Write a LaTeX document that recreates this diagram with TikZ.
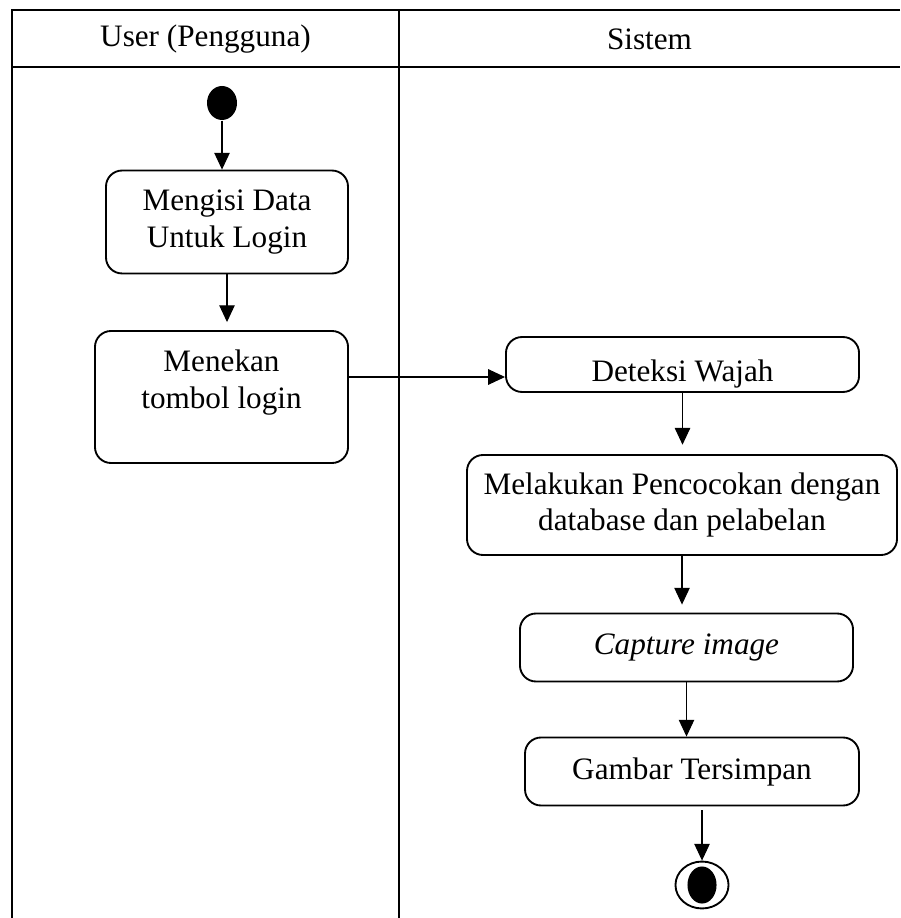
\documentclass[tikz,border=0pt]{standalone}
\usepackage{fontspec}
\setmainfont{Liberation Serif}
\usetikzlibrary{positioning,arrows.meta,shapes.geometric}

\begin{document}
\begin{tikzpicture}[x=0.375pt,y=-0.375pt,
		font=\fontsize{11.7pt}{13.8pt}\selectfont,
		act/.style={draw, line width=0.7pt, rounded corners=6pt, align=center, inner sep=0pt},
		flow/.style={-{Triangle[length=6.3pt,width=5.8pt]}, line width=0.4pt},
		lane/.style={line width=0.7pt}]
		\useasboundingbox (0,0) rectangle (900,918);
		
		\draw[lane] (900,10) -- (12,10) -- (12,918);
		\draw[lane] (12,67) -- (900,67);
		\draw[lane] (399,10) -- (399,918);
		\node (user) at (205.5,39.5) {User (Pengguna)};
		\node (sistem) at (649.5,39.5) {Sistem};
		
		\node[ellipse, fill, minimum width=11.25pt, minimum height=12.75pt, inner sep=0pt] (start) at (222,103) {};
		\node[act, minimum width=90.75pt, minimum height=38.6pt] (login) at (227,222) {Mengisi Data\\Untuk Login};
		\node[act, minimum width=94.9pt, minimum height=49.5pt,
		label={[align=center, anchor=north, yshift=-4pt]north:{Menekan\\tombol login}}] (tombol) at (221.5,397) {};
		
		\node[act, minimum width=132.4pt, minimum height=20.6pt, text height=15pt, text depth=2.6pt] (deteksi) at (682.5,364.5) {Deteksi Wajah};
		\node[act, minimum width=161.25pt, minimum height=37.5pt] (cocok) at (682,505) {Melakukan Pencocokan dengan\\database dan pelabelan};
		\node[act, minimum width=124.9pt, minimum height=25.5pt] (capture) at (686.5,647.5) {\textit{Capture image}};
		\node[act, minimum width=125.25pt, minimum height=25.5pt] (simpan) at (692,771.5) {Gambar Tersimpan};
		\node[ellipse, draw, line width=0.7pt, minimum width=19.9pt, minimum height=17.6pt, inner sep=0pt] (end) at (702,885) {};
		\node[ellipse, fill, minimum width=10.9pt, minimum height=13.9pt, inner sep=0pt] (endin) at (end) {};
		
		\coordinate (h) at ([yshift=7.5pt]tombol.east);
		\draw[flow] (start) -- (start |- login.north);
		\draw[flow, shorten >=3pt] (login.south) -- (login.south |- tombol.north);
		\draw[flow] (h) -- (h -| deteksi.west);
		\draw[flow, shorten >=3.5pt] (deteksi.south) -- (deteksi.south |- cocok.north);
		\draw[flow, shorten >=3pt] (cocok.south) -- (cocok.south |- capture.north);
		\draw[flow] (capture.south) -- (capture.south |- simpan.north);
		\draw[flow, shorten <=1.5pt] (end.north |- simpan.south) -- (end.north);
	\end{tikzpicture}
\end{document}
